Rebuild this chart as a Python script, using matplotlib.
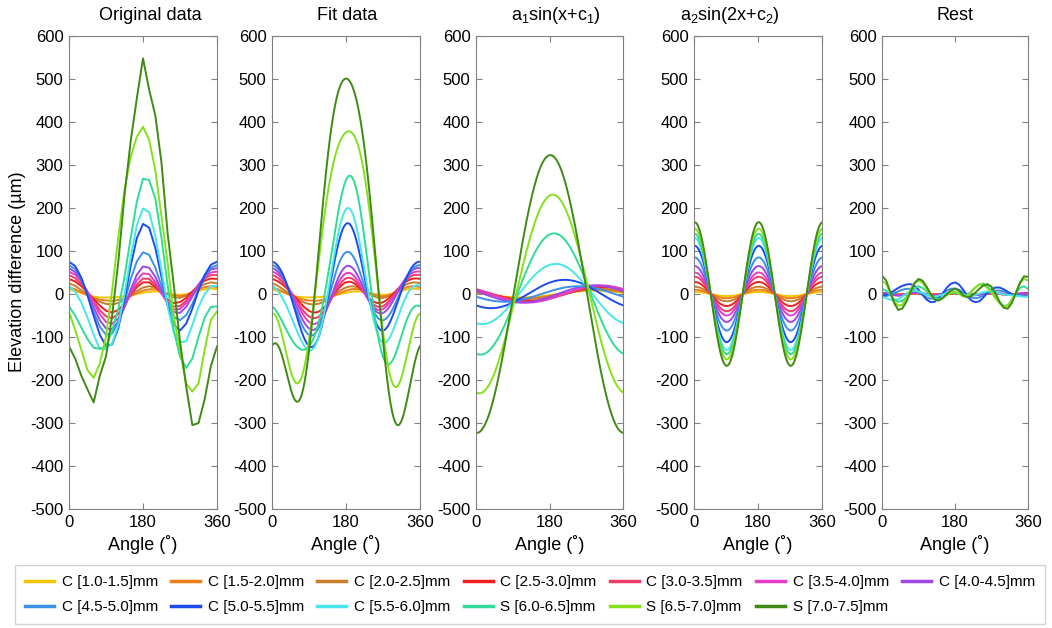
import numpy as np
import matplotlib.pyplot as plt

plt.rcParams['font.family'] = ['Liberation Sans', 'DejaVu Sans']
plt.rcParams['axes.unicode_minus'] = False
plt.rcParams['mathtext.default'] = 'regular'

labels = ["C [1.0-1.5]mm", "C [1.5-2.0]mm", "C [2.0-2.5]mm", "C [2.5-3.0]mm",
          "C [3.0-3.5]mm", "C [3.5-4.0]mm", "C [4.0-4.5]mm", "C [4.5-5.0]mm",
          "C [5.0-5.5]mm", "C [5.5-6.0]mm", "S [6.0-6.5]mm", "S [6.5-7.0]mm",
          "S [7.0-7.5]mm"]
colors = ['#f5c400', '#f07f1a', '#c87f2d', '#f02020', '#f03c64', '#e63cc8', '#a046e6',
          '#3c91e6', '#1e4bf0', '#46e6eb', '#2fdc96', '#86e01a', '#3f8a14']

# first harmonic a1*sin(x + c1), c1 in degrees
a1 = [8, 10, 12, 16, 18, 20, 20, 18, 33, 70, 141, 231, 323]
c1 = [-200, -205, -210, -220, -218, -215, -200, -160, -127, -105, -101, -98, -92]

# second harmonic a2*sin(2x + c2)
a2 = [5, 10, 17, 28, 40, 50, 65, 85, 112, 130, 140, 152, 167]
c2 = [86, 86, 86, 86, 86, 86, 86, 86, 86, 86, 86, 86, 86]

# fit curve: a0 + sum(p_k cos(kx) + q_k sin(kx)), k = 1..3
fit_a0 = [1, 1, 2, 1, 0, 0, 0, 2, 8, -7, -8, 34, 35]
fit_p1 = [3, 4, 6, 10, 11, 11, 7, -6, -26, -68, -138, -261, -362]
fit_q1 = [-5, -8, -10, -12, -14, -16, -19, -17, -20, -18, -11, -10, 3]
fit_p2 = [6, 11, 18, 30, 40, 50, 62, 80, 111, 115, 126, 131, 155]
fit_q2 = [0, 1, 1, 2, 3, 4, 5, 6, 10, 10, 22, 15, 25]
fit_p3 = [1, 0, -1, -6, -7, -9, -9, -9, -18, -21, -9, 50, 51]
fit_q3 = [-2, -3, -3, -2, -2, -1, -1, 0, -2, -9, -23, 0, 15]

# original data, every 15 degrees
orig_angle = np.arange(0, 361, 15)
orig = [
    [11, 7, 2, -3, -6, -8, -8, -8, -7, -5, -3, 0, 3, 5, 6, 5, 2, -1, -2, -1, 3, 7, 11, 13, 11],
    [16, 11, 4, -3, -9, -13, -15, -16, -14, -11, -5, 2, 8, 11, 11, 7, 1, -3, -5, -2, 4, 11, 16, 18, 16],
    [25, 19, 9, -1, -11, -18, -23, -24, -21, -13, -3, 7, 15, 18, 15, 7, -1, -8, -9, -4, 5, 15, 23, 27, 25],
    [35, 29, 18, 4, -12, -27, -39, -43, -37, -22, -2, 16, 27, 27, 17, 2, -13, -21, -19, -9, 6, 20, 31, 36, 35],
    [44, 37, 23, 4, -17, -38, -52, -56, -47, -27, -1, 22, 36, 35, 22, 2, -18, -29, -28, -16, 2, 21, 36, 44, 44],
    [52, 45, 29, 6, -21, -47, -65, -69, -57, -30, 3, 32, 48, 46, 28, 2, -22, -36, -35, -21, 0, 22, 40, 50, 52],
    [60, 51, 31, 2, -31, -61, -80, -82, -64, -30, 10, 45, 64, 61, 40, 8, -23, -42, -44, -30, -6, 20, 43, 57, 60],
    [67, 58, 34, -2, -42, -76, -95, -92, -64, -18, 34, 76, 97, 91, 61, 18, -24, -53, -61, -49, -23, 10, 40, 61, 67],
    [75, 65, 38, -3, -51, -95, -121, -117, -79, -12, 65, 130, 163, 154, 107, 39, -27, -71, -85, -69, -34, 8, 44, 68, 75],
    [19, 5, -20, -55, -95, -128, -128, -115, -72, 0, 85, 160, 199, 190, 135, 55, -30, -90, -112, -110, -72, -30, 0, 18, 19],
    [-29, -50, -78, -105, -125, -127, -122, -85, -35, 40, 130, 215, 268, 265, 222, 130, 20, -85, -146, -172, -150, -100, -55, -30, -29],
    [-41, -84, -130, -177, -195, -161, -99, 9, 133, 242, 319, 366, 389, 358, 288, 180, 71, -53, -130, -208, -227, -208, -130, -60, -41],
    [-122, -150, -190, -222, -252, -190, -145, -50, 75, 230, 355, 455, 548, 475, 415, 305, 140, 20, -110, -215, -305, -300, -245, -168, -122],
]

# rest, every 10 degrees
rest_angle = np.arange(0, 361, 10)
rest = [
    [0, 0, 0, -1, -1, 0, 0, 0, 1, 1, 0, 0, 0, -1, 0, 0, 0, 0, 1, 0, 0, 0, 0, 0, 0, 0, 1, 0, 0, 0, 0, 0, 0, 0, 0, 0, 0],
    [1, 0, 0, -1, -1, 0, 0, 1, 1, 1, 0, 0, -1, -1, 0, 0, 0, 1, 1, 0, 0, 0, -1, 0, 0, 0, 1, 1, 0, 0, 0, -1, 0, 0, 0, 1, 1],
    [1, 1, 0, -1, -1, -1, 0, 1, 1, 1, 0, 0, -1, -1, -1, 0, 0, 1, 1, 1, 0, 0, -1, -1, 0, 0, 1, 1, 1, 0, 0, -1, 0, 0, 0, 1, 1],
    [2, 1, 0, -1, -2, -1, 0, 1, 2, 2, 1, 0, -1, -2, -1, 0, 1, 1, 2, 1, 0, -1, -1, -1, 0, 1, 1, 1, 1, 0, -1, -1, 0, 0, 1, 1, 2],
    [2, 2, 0, -1, -2, -2, 0, 1, 2, 2, 1, -1, -2, -2, -1, 0, 1, 2, 2, 1, 0, -1, -2, -1, 0, 1, 1, 2, 1, 0, -1, -1, 0, 0, 1, 2, 2],
    [3, 2, 0, -2, -3, -2, 0, 2, 3, 3, 1, -1, -2, -3, -2, 0, 1, 2, 3, 2, 0, -1, -2, -2, -1, 0, 1, 2, 2, 1, 0, -1, -1, 0, 1, 2, 3],
    [2, 1, -1, -3, -4, -3, -1, 2, 4, 4, 2, -1, -3, -4, -3, -1, 1, 3, 4, 3, 1, -1, -3, -3, -2, 0, 2, 3, 3, 2, 0, -1, -2, -1, 0, 1, 2],
    [-6, -5, -2, 2, 6, 10, 12, 12, 9, 4, -2, -8, -11, -10, -5, 2, 8, 12, 13, 10, 4, -3, -8, -10, -8, -3, 2, 6, 8, 8, 6, 3, 0, -2, -4, -5, -6],
    [-4, -2, 2, 8, 14, 19, 22, 23, 19, 10, -2, -13, -19, -18, -10, 2, 15, 24, 27, 22, 10, -4, -15, -19, -17, -8, 3, 11, 15, 15, 11, 5, 0, -3, -5, -5, -4],
    [-6, -10, -13, -15, -12, -6, 1, 7, 8, 6, 2, -2, -5, -6, -4, -1, 2, 4, 4, 2, -1, -3, -4, -2, 1, 4, 6, 6, 4, 1, -1, -2, -3, -4, -5, -6, -6],
    [12, 8, -2, -12, -18, -16, -8, 4, 14, 18, 14, 6, -4, -10, -12, -8, -2, 2, 3, 0, -4, -2, 6, 15, 22, 24, 18, 6, -8, -20, -28, -26, -14, 2, 14, 18, 12],
    [31, 24, 4, -17, -27, -25, -10, 10, 26, 31, 26, 12, -3, -13, -15, -10, -2, 4, 5, 1, -6, -5, 4, 15, 22, 21, 14, 3, -10, -22, -29, -27, -15, 4, 24, 36, 31],
    [42, 32, 6, -21, -37, -34, -18, 4, 25, 35, 31, 17, 0, -13, -15, -9, 0, 8, 12, 8, -3, -8, -5, 3, 12, 20, 23, 17, 1, -18, -32, -34, -21, 2, 26, 41, 40],
]

W, H = 1052, 628
fig = plt.figure(figsize=(W / 100, H / 100), dpi=100)

boxes = [(69, 217), (272, 420), (476, 623), (694, 822), (882, 1028)]
top, bottom = 36, 509
titles = ['Original data', 'Fit data', 'a$_1$sin(x+c$_1$)', 'a$_2$sin(2x+c$_2$)', 'Rest']
title_x = [150, 347, 556, 730, 955]

x = np.linspace(0, 360, 361)
xr = np.radians(x)

axes = []
for l, r in boxes:
    ax = fig.add_axes([l / W, 1 - bottom / H, (r - l) / W, (bottom - top) / H])
    axes.append(ax)

lines = []
for i in range(len(labels)):
    col = colors[i]
    ln, = axes[0].plot(orig_angle, orig[i], color=col, lw=1.4)
    lines.append(ln)

    fit = (fit_a0[i]
           + fit_p1[i] * np.cos(xr) + fit_q1[i] * np.sin(xr)
           + fit_p2[i] * np.cos(2 * xr) + fit_q2[i] * np.sin(2 * xr)
           + fit_p3[i] * np.cos(3 * xr) + fit_q3[i] * np.sin(3 * xr))
    axes[1].plot(x, fit, color=col, lw=1.4)

    axes[2].plot(x, a1[i] * np.sin(np.radians(x + c1[i])), color=col, lw=1.4)
    axes[3].plot(x, a2[i] * np.sin(np.radians(2 * x + c2[i])), color=col, lw=1.4)
    axes[4].plot(rest_angle, rest[i], color=col, lw=1.4)

for k, ax in enumerate(axes):
    ax.set_xlim(0, 360)
    ax.set_ylim(-500, 600)
    ax.set_xticks([0, 180, 360])
    ax.set_yticks(range(-500, 601, 100))
    ax.tick_params(direction='in', top=True, right=True, length=4, width=0.8,
                   color='#808080', labelsize=12, pad=4)
    for sp in ax.spines.values():
        sp.set_color('#808080')
        sp.set_linewidth(0.8)
    ax.set_xlabel('Angle (˚)', fontsize=13, labelpad=4)
    fig.text(title_x[k] / W, 1 - 15 / H, titles[k], fontsize=13,
             ha='center', va='center')

fig.text(18 / W, 1 - 272 / H, 'Elevation difference (µm)', fontsize=13,
         rotation=90, ha='center', va='center')

order = [0, 7, 1, 8, 2, 9, 3, 10, 4, 11, 5, 12, 6]
leg = fig.legend([lines[k] for k in order], [labels[k] for k in order], ncol=7,
                 loc='upper left', bbox_to_anchor=(15 / W, 3 / H, 1030 / W, 60 / H),
                 mode='expand', fontsize=11, frameon=True, fancybox=False,
                 edgecolor='#c8c8c8', handlelength=1.9, handletextpad=0.5,
                 columnspacing=0.6, borderaxespad=0, labelspacing=0.75, borderpad=0.65)
leg.get_frame().set_linewidth(1.0)
for ln in leg.get_lines():
    ln.set_linewidth(2.5)

plt.savefig('out.png', dpi=100)
